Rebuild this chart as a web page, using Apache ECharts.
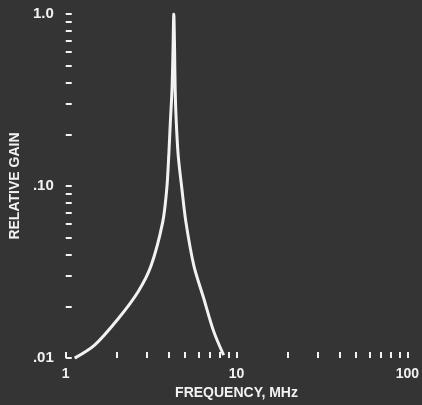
<!DOCTYPE html>
<html>
<head>
<meta charset="utf-8">
<title>Relative gain vs frequency</title>
<script src="https://cdn.jsdelivr.net/npm/echarts@6/dist/echarts.min.js"></script>
<style>
	html, body { margin: 0; padding: 0; background: #343434; }
	#chart { width: 422px; height: 405px; }
</style>
</head>
<body>
<div id="chart"></div>
<script>
// (MHz, relative gain)
var freqMHz = [1.128, 1.474, 2.033, 2.658, 3.162, 3.698, 3.903, 4.009, 4.096, 4.189, 4.246, 4.292, 4.338, 4.373, 4.438, 4.558, 4.788, 5.051, 5.623, 6.429, 7.350, 8.404];
var gain    = [0.0100, 0.0119, 0.0170, 0.0244, 0.0345, 0.0619, 0.0961, 0.1491, 0.2344, 0.3637, 0.6192, 1.0, 0.6192, 0.3637, 0.2344, 0.1491, 0.0961, 0.0619, 0.0345, 0.0222, 0.0143, 0.0104];

var xTicks = [1, 2, 3, 4, 5, 6, 7, 8, 9, 10, 20, 30, 40, 50, 60, 70, 80, 90, 100];
var xLabels = [1, 10, 100];
var yTicks = [0.01, 0.02, 0.03, 0.04, 0.05, 0.06, 0.07, 0.08, 0.09, 0.1, 0.2, 0.3, 0.4, 0.5, 0.6, 0.7, 0.8, 0.9, 1];
var yLabels = [0.01, 0.1, 1];
var yLabelText = { "0.01": ".01", "0.1": ".10", "1": "1.0" };

var ink = "#f2f2f2";
var font = "Liberation Sans";

var myChart = echarts.init(document.getElementById("chart"));
var option = {
	backgroundColor: "#343434",
	animation: false,
	grid: { left: 64, right: 14, top: 14, bottom: 45 },
	xAxis: {
		type: "log",
		logBase: 10,
		min: 1,
		max: 100,
		name: "FREQUENCY, MHz",
		nameLocation: "middle",
		nameGap: 25,
		nameTextStyle: { color: ink, fontFamily: font, fontSize: 14, fontWeight: "bold" },
		axisLine: { show: false },
		axisTick: { show: true, inside: true, length: 6, customValues: xTicks, lineStyle: { color: ink, width: 2 } },
		axisLabel: { customValues: xLabels, margin: 9, color: ink, fontFamily: font, fontSize: 14, fontWeight: "bold" },
		splitLine: { show: false },
		minorTick: { show: false }
	},
	yAxis: {
		type: "log",
		logBase: 10,
		min: 0.01,
		max: 1,
		name: "RELATIVE GAIN",
		nameLocation: "middle",
		nameGap: 32,
		nameTextStyle: { color: ink, fontFamily: font, fontSize: 14, fontWeight: "bold" },
		axisLine: { show: false },
		axisTick: { show: true, inside: true, length: 6, customValues: yTicks, lineStyle: { color: ink, width: 2 } },
		axisLabel: {
			customValues: yLabels,
			margin: 12,
			color: ink,
			fontFamily: font,
			fontSize: 15,
			fontWeight: "bold",
			formatter: function (v) {
				return yLabelText[String(v)] || v;
			}
		},
		splitLine: { show: false }
	},
	series: [
		{
			type: "line",
			data: freqMHz.map(function (f, i) { return [f, gain[i]]; }),
			showSymbol: false,
			smooth: 0.3,
			lineStyle: { color: ink, width: 3 }
		}
	]
};
myChart.setOption(option);
</script>
</body>
</html>
